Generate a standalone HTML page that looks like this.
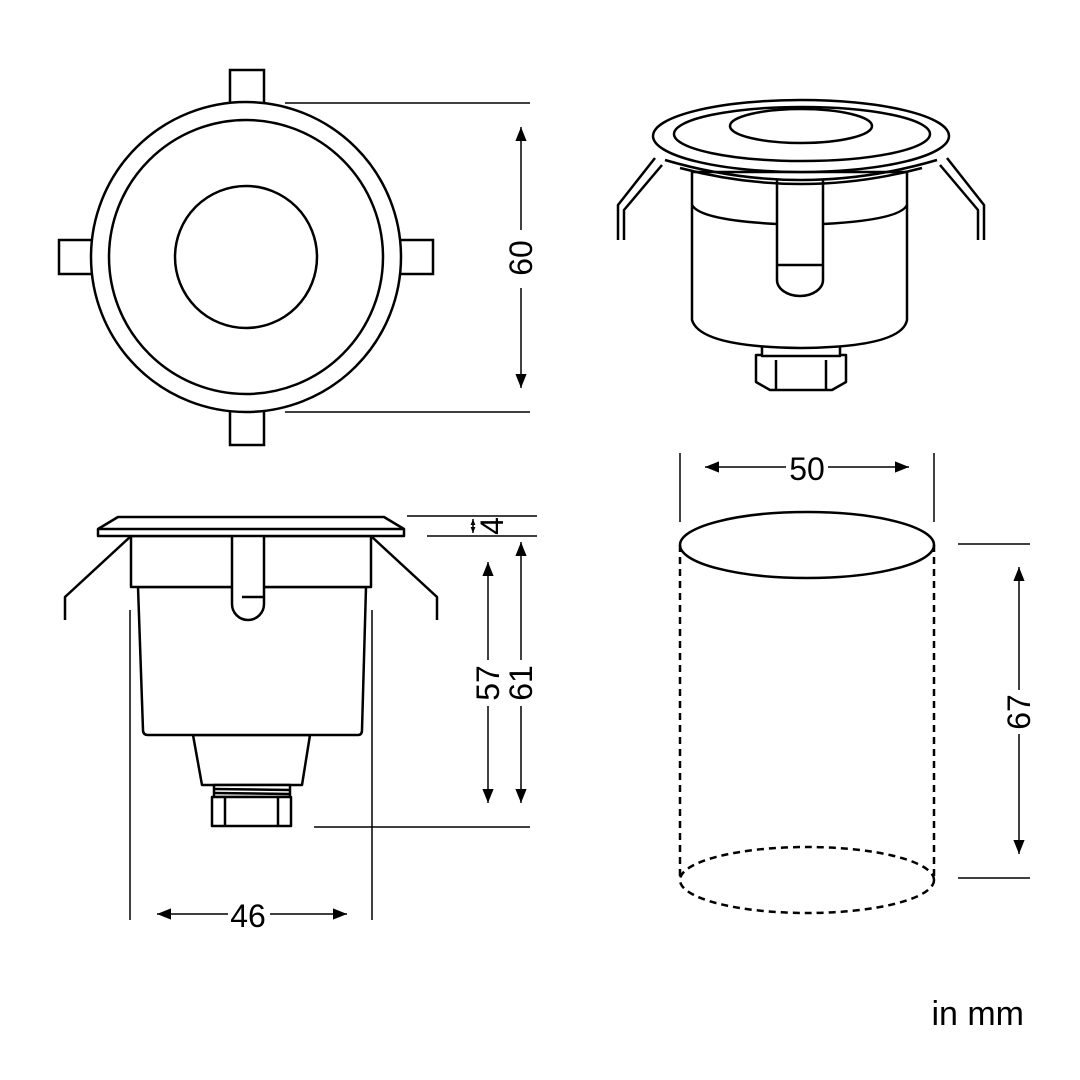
<!DOCTYPE html>
<html><head><meta charset="utf-8"><style>html,body{margin:0;padding:0;background:#fff}svg{display:block}</style></head><body>
<svg width="1080" height="1080" viewBox="0 0 1080 1080" xmlns="http://www.w3.org/2000/svg">
<defs>
<marker id="ar" viewBox="0 0 10 10" refX="10" refY="5" markerWidth="14" markerHeight="14" markerUnits="userSpaceOnUse" orient="auto-start-reverse"><path d="M0,1 L10,5 L0,9 z" fill="#000"/></marker>
<marker id="as" viewBox="0 0 10 10" refX="10" refY="5" markerWidth="6" markerHeight="6" markerUnits="userSpaceOnUse" orient="auto-start-reverse"><path d="M0,1 L10,5 L0,9 z" fill="#000"/></marker>
</defs>
<g fill="#fff" stroke="#000" stroke-width="2.5">
<rect x="230" y="70" width="34" height="40"/>
<rect x="230" y="405" width="34" height="40"/>
<rect x="59" y="240" width="40" height="34"/>
<rect x="393" y="240" width="40" height="34"/>
<circle cx="246" cy="257" r="155"/>
<circle cx="246" cy="257" r="137"/>
<circle cx="246" cy="257" r="71"/>
</g>
<g fill="none" stroke="#000" stroke-width="1.5">
<line x1="285" y1="103" x2="530" y2="103"/>
<line x1="285" y1="412" x2="530" y2="412"/>
<line x1="521" y1="127" x2="521" y2="230" marker-start="url(#ar)"/>
<line x1="521" y1="288" x2="521" y2="388" marker-end="url(#ar)"/>
</g>
<text x="521" y="258" transform="rotate(-90 521 258)" font-family="Liberation Sans, sans-serif" font-size="32" text-anchor="middle" dominant-baseline="central">60</text>

<g fill="#fff" stroke="#000" stroke-width="2.5" stroke-linejoin="round">
<path d="M655,158 L618,205 L618,240 M662,165 L624,210 L624,240" fill="none"/>
<path d="M947,158 L984,205 L984,240 M940,165 L978,210 L978,240" fill="none"/>
<path d="M756,355 L846,355 L846,382 L832,390 L770,390 L756,382 Z"/>
<line x1="776" y1="360" x2="776" y2="390"/><line x1="826" y1="360" x2="826" y2="390"/>
<rect x="762" y="340" width="78" height="16"/>
<path d="M692,172 L692,320 Q700,347 801,348 Q902,347 907,320 L907,172 Z"/>
<path d="M692,205 Q700,220 777,224 M823,224 Q900,220 907,205" fill="none"/>
<path d="M777,180 L777,280 A23,16 0 0 0 823,280 L823,180" />
<line x1="777" y1="265" x2="823" y2="265"/>
<path d="M665,160 Q801,200 937,160" fill="none"/>
<path d="M680,168 Q801,200 922,168" fill="none"/>
<ellipse cx="801" cy="136" rx="148" ry="36"/>
<ellipse cx="802" cy="134" rx="128" ry="27"/>
<ellipse cx="801" cy="126" rx="71" ry="17"/>
</g>

<g fill="#fff" stroke="#000" stroke-width="2.5" stroke-linejoin="round">
<path d="M130,537 L65,597 L65,620" fill="none"/>
<path d="M372,537 L437,597 L437,620" fill="none"/>
<path d="M193,735 L202,785 L302,785 L310,735 Z"/>
<rect x="214" y="785" width="76" height="12"/>
<line x1="214" y1="789" x2="290" y2="790"/><line x1="214" y1="793" x2="290" y2="794"/>
<rect x="212" y="797" width="79" height="29"/>
<line x1="225" y1="797" x2="225" y2="826"/><line x1="278" y1="797" x2="278" y2="826"/>
<path d="M138,587 L143,730 Q143,735 148,735 L358,735 Q362,735 362,730 L366,587 Z"/>
<rect x="131" y="536" width="240" height="51"/>
<path d="M232,536 L232,604 A16,16 0 0 0 264,604 L264,536" />
<line x1="242" y1="597" x2="264" y2="597"/>
<path d="M118,517 L384,517 L404,529 L404,536 L98,536 L98,529 Z"/>
<line x1="98" y1="529" x2="404" y2="529"/>
</g>
<g fill="none" stroke="#000" stroke-width="1.5">
<line x1="130" y1="610" x2="130" y2="920"/>
<line x1="372" y1="610" x2="372" y2="920"/>
<line x1="407" y1="516" x2="537" y2="516"/>
<line x1="427" y1="536" x2="537" y2="536"/>
<line x1="314" y1="827" x2="530" y2="827"/>
<line x1="488" y1="562" x2="488" y2="660" marker-start="url(#ar)"/>
<line x1="488" y1="706" x2="488" y2="803" marker-end="url(#ar)"/>
<line x1="521" y1="542" x2="521" y2="660" marker-start="url(#ar)"/>
<line x1="521" y1="706" x2="521" y2="803" marker-end="url(#ar)"/>
<line x1="473" y1="519" x2="473" y2="533" marker-start="url(#as)" marker-end="url(#as)"/>
<line x1="157" y1="914" x2="228" y2="914" marker-start="url(#ar)"/>
<line x1="270" y1="914" x2="347" y2="914" marker-end="url(#ar)"/>
</g>
<g font-family="Liberation Sans, sans-serif" font-size="32" text-anchor="middle" dominant-baseline="central">
<text x="488" y="683" transform="rotate(-90 488 683)">57</text>
<text x="521" y="683" transform="rotate(-90 521 683)">61</text>
<text x="492" y="526" transform="rotate(-90 492 526)">4</text>
<text x="248" y="916">46</text>
<text x="807" y="469">50</text>
<text x="1019" y="712" transform="rotate(-90 1019 712)">67</text>
</g>

<g fill="none" stroke="#000" stroke-width="2.5">
<ellipse cx="807" cy="545" rx="127" ry="33"/>
<g stroke-dasharray="7,5">
<line x1="680" y1="545" x2="680" y2="880"/>
<line x1="934" y1="545" x2="934" y2="880"/>
<ellipse cx="807" cy="880" rx="127" ry="33"/>
</g>
</g>
<g fill="none" stroke="#000" stroke-width="1.5">
<line x1="680" y1="453" x2="680" y2="522"/>
<line x1="934" y1="453" x2="934" y2="522"/>
<line x1="705" y1="467" x2="786" y2="467" marker-start="url(#ar)"/>
<line x1="828" y1="467" x2="909" y2="467" marker-end="url(#ar)"/>
<line x1="958" y1="544" x2="1030" y2="544"/>
<line x1="958" y1="878" x2="1030" y2="878"/>
<line x1="1019" y1="567" x2="1019" y2="690" marker-start="url(#ar)"/>
<line x1="1019" y1="734" x2="1019" y2="854" marker-end="url(#ar)"/>
</g>
<text x="1024" y="1025" font-family="Liberation Sans, sans-serif" font-size="34" text-anchor="end">in mm</text>
</svg>
</body></html>
